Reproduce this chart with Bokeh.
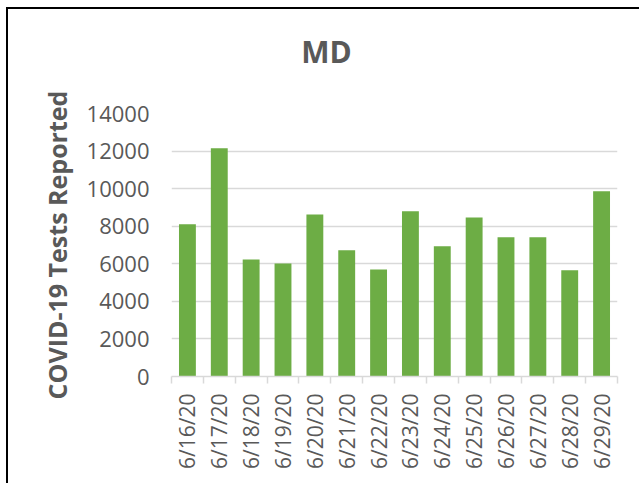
import math
from bokeh.plotting import figure
from bokeh.models import FixedTicker, Range1d, Div
from bokeh.layouts import column
from bokeh.embed import file_html
from bokeh.resources import INLINE

title_text = "MD"
dates = ["6/16/20", "6/17/20", "6/18/20", "6/19/20", "6/20/20", "6/21/20", "6/22/20",
         "6/23/20", "6/24/20", "6/25/20", "6/26/20", "6/27/20", "6/28/20", "6/29/20"]
tests = [8100, 12150, 6230, 6020, 8630, 6720, 5700, 8800, 6930, 8470, 7410, 7410, 5650, 9860]
y_ticks = [0, 2000, 4000, 6000, 8000, 10000, 12000, 14000]

GRAY = "#595959"
LIGHT = "#d9d9d9"
FONT = "Open Sans"

n = len(dates)
x_pos = [i + 0.5 for i in range(n)]

title_div = Div(text=title_text, width=631, height=58, margin=0,
                styles={"font-family": FONT, "font-weight": "bold", "font-size": "30px",
                        "line-height": "30px", "color": GRAY, "text-align": "center",
                        "padding-top": "28px", "padding-left": "6px",
                        "box-sizing": "border-box", "background": "white"})

p = figure(width=631, height=416, output_backend="svg", toolbar_location=None,
           x_range=Range1d(0, n), y_range=Range1d(0, 14000),
           min_border_left=163, min_border_right=22, min_border_top=46,
           min_border_bottom=107, margin=0)
p.outline_line_color = None
p.background_fill_color = "white"
p.border_fill_color = "white"

p.vbar(x=x_pos, top=tests, width=0.53, fill_color="#6dad45", line_color=None)

# x axis
xa = p.xaxis[0]
xa.ticker = FixedTicker(ticks=x_pos, minor_ticks=list(range(n + 1)))
xa.major_label_overrides = {x: d for x, d in zip(x_pos, dates)}
xa.major_label_orientation = math.pi / 2
xa.axis_line_color = LIGHT
xa.axis_line_width = 1.5
xa.major_tick_line_color = None
xa.minor_tick_line_color = LIGHT
xa.minor_tick_line_width = 1.5
xa.minor_tick_in = 0
xa.minor_tick_out = 7
xa.major_label_text_font = FONT
xa.major_label_text_font_size = "21px"
xa.major_label_text_color = GRAY
xa.major_label_standoff = 10

# y axis
ya = p.yaxis[0]
ya.ticker = FixedTicker(ticks=y_ticks)
ya.axis_line_color = None
ya.major_tick_line_color = None
ya.minor_tick_line_color = None
ya.major_label_text_font = FONT
ya.major_label_text_font_size = "22px"
ya.major_label_text_color = GRAY
ya.major_label_standoff = 16
ya.axis_label = "COVID-19 Tests Reported"
ya.axis_label_text_font = FONT
ya.axis_label_text_font_style = "bold"
ya.axis_label_text_font_size = "25px"
ya.axis_label_text_color = GRAY
ya.axis_label_standoff = 10

p.xgrid.visible = False
p.ygrid.ticker = FixedTicker(ticks=y_ticks)
p.ygrid.grid_line_color = LIGHT
p.ygrid.grid_line_width = 1.5

layout = column(title_div, p, spacing=0, margin=0)
layout.styles = {"border-top": "2.5px solid black", "border-left": "2.5px solid black",
                 "margin-left": "6px", "margin-top": "7px", "background": "white"}

open("out.html", "w").write(file_html(layout, INLINE))
